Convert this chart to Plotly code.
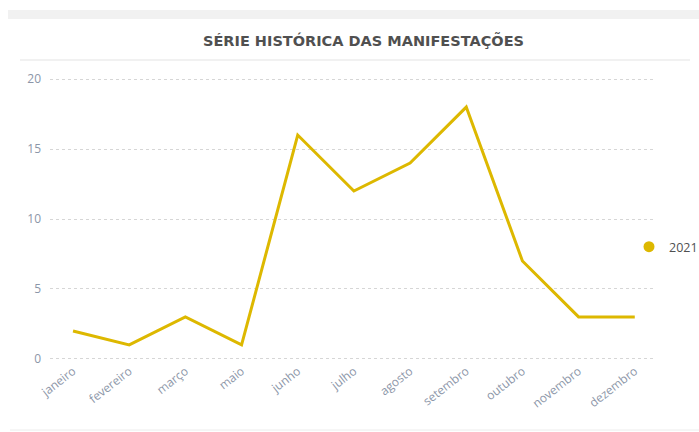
import plotly.graph_objects as go

meses = ["janeiro", "fevereiro", "março", "maio", "junho", "julho",
         "agosto", "setembro", "outubro", "novembro", "dezembro"]
valores_2021 = [2, 1, 3, 1, 16, 12, 14, 18, 7, 3, 3]
serie = "2021"
titulo = "SÉRIE HISTÓRICA DAS MANIFESTAÇÕES"
cor = "#DDB800"

fig = go.Figure()
fig.add_trace(go.Scatter(x=meses, y=valores_2021, mode="lines",
                         line=dict(color=cor, width=3), showlegend=False,
                         name=serie))
fig.add_trace(go.Scatter(x=[None], y=[None], mode="markers", name=serie,
                         marker=dict(color=cor, size=11, symbol="circle")))

W, H = 699, 432
L, R, T, B = 50, 44, 77, 71
pw, ph = W - L - R, H - T - B
def px(x): return (x - L) / pw
def py(y): return (H - B - y) / ph

fig.update_layout(
    width=W, height=H,
    margin=dict(l=L, r=R, t=T, b=B, autoexpand=False),
    paper_bgcolor="white", plot_bgcolor="white",
    font=dict(family="Open Sans, DejaVu Sans, sans-serif", color="#8a94a6"),
    xaxis=dict(range=[-0.41, 10.36], showgrid=False, zeroline=False,
               tickangle=-38, tickfont=dict(size=12, color="#8c96a8"),
               ticks="", showline=False, automargin=False),
    yaxis=dict(range=[-0.15, 20.15], tickvals=[0, 5, 10, 15, 20],
               showgrid=True, gridcolor="#d6d6d6", griddash="dot", gridwidth=1,
               zeroline=False, showline=False, ticks="", automargin=False,
               tickfont=dict(size=12, color="#8c96a8"), ticklabelstandoff=8),
    legend=dict(x=px(629), y=py(247), xanchor="left", yanchor="middle",
                font=dict(family="Open Sans, DejaVu Sans, sans-serif",
                          size=12.5, color="#505050"), itemwidth=30,
                bgcolor="rgba(0,0,0,0)"),
    showlegend=True,
    shapes=[
        dict(type="rect", xref="paper", yref="paper", x0=px(8), x1=px(699),
             y0=py(19), y1=py(10), fillcolor="#f1f1f1", line=dict(width=0),
             layer="below"),
        dict(type="line", xref="paper", yref="paper", x0=px(20), x1=px(690),
             y0=py(60), y1=py(60), line=dict(color="#e3e3e3", width=1)),
        dict(type="line", xref="paper", yref="paper", x0=px(10), x1=px(699),
             y0=py(430), y1=py(430), line=dict(color="#ececec", width=1)),
    ],
    annotations=[dict(text="<b>" + titulo + "</b>", xref="paper", yref="paper",
                      x=px(363), y=py(40), xanchor="center", yanchor="middle",
                      showarrow=False,
                      font=dict(family="DejaVu Sans", size=14.5, color="#505050"))],
)

fig.write_html("out.html")
